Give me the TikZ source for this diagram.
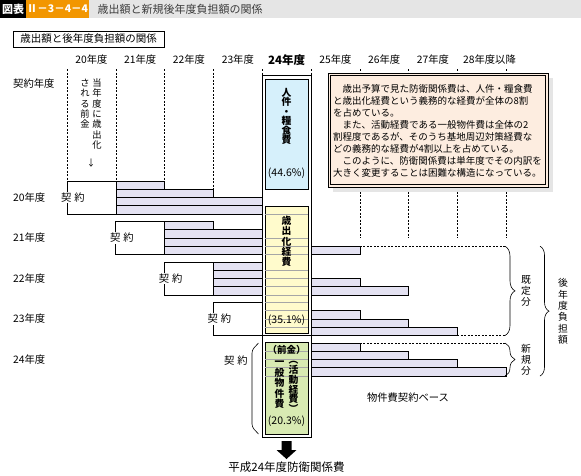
\documentclass[tikz,border=0pt]{standalone}
\usepackage{fontspec}
\setmainfont{Noto Sans CJK JP}
\usetikzlibrary{decorations.pathreplacing}
\definecolor{barfill}{RGB}{228,226,242}
\definecolor{boxblue}{RGB}{214,240,251}
\definecolor{boxyellow}{RGB}{255,251,204}
\definecolor{boxgreen}{RGB}{216,234,178}
\definecolor{notefill}{RGB}{253,237,224}
\definecolor{titleorange}{RGB}{242,150,0}
\definecolor{titlegray}{RGB}{229,229,229}
\definecolor{titletext}{RGB}{60,60,60}
\newcommand{\fsz}[2]{\fontsize{#1}{#2}\selectfont}

\begin{document}
\begin{tikzpicture}[x=1pt, y=-1pt,
    bar/.style={draw, line width=0.6pt, fill=barfill},
    guide/.style={line width=0.6pt, dash pattern=on 2pt off 1.5pt},
    boxline/.style={gray!70, line width=0.6pt},
    yearlabel/.style={font=\fsz{10.3}{12}, inner sep=1pt},
    keiyaku/.style={font=\fsz{10.3}{12}, fill=white, inner sep=1pt},
    vtext/.style={align=center, inner sep=0pt},
    bracebox/.style={decorate, line width=0.6pt}]
    \useasboundingbox (0,0) rectangle (581,475);

    % title bar
    \fill[black] (0,0) rectangle (26,18);
    \fill[titleorange] (26,0) rectangle (89,18);
    \fill[titlegray] (89,0) rectangle (581,18);
    \node[text=white, font=\fsz{11}{12}\bfseries] (zuhyo) at (13,9) {図表};
    \node[text=white, font=\fsz{10.5}{12}\bfseries] (zuhyono) at (57.5,9) {Ⅱ－3－4－4};
    \node[anchor=west, text=titletext, font=\fsz{11}{12}] (title) at (94,9) {歳出額と新規後年度負担額の関係};
    \node[draw, line width=0.8pt, minimum width=151pt, minimum height=16pt, inner sep=0pt, font=\fsz{10.5}{12}] (subtitle) at (88.5,39) {歳出額と後年度負担額の関係};

    % year heads
    \node[yearlabel] (h20) at (91.4,60) {20年度};
    \node[yearlabel] (h21) at (140.2,60) {21年度};
    \node[yearlabel] (h22) at (189,60) {22年度};
    \node[yearlabel] (h23) at (237.8,60) {23年度};
    \node[yearlabel, font=\fsz{11.5}{12}\bfseries] (h24) at (286.6,60) {24年度};
    \node[yearlabel] (h25) at (335.4,60) {25年度};
    \node[yearlabel] (h26) at (384.2,60) {26年度};
    \node[yearlabel] (h27) at (433,60) {27年度};
    \node[yearlabel, anchor=west] (h28) at (462,60) {28年度以降};

    \draw[guide] (67,69) -- (67,181);
    \draw[guide] (115.8,69) -- (115.8,181);
    \draw[guide] (164.6,69) -- (164.6,181);
    \draw[guide] (213.4,69) -- (213.4,189.25);
    \draw[guide] (262.2,69) -- (262.2,75);
    \draw[guide] (311,69) -- (311,75);
    \draw[guide] (359.8,69) -- (359.8,238);
    \draw[guide] (408.6,69) -- (408.6,238);
    \draw[guide] (457.4,69) -- (457.4,238);
    \draw[guide] (506.2,69) -- (506.2,238);

    % contract years
    \node[yearlabel, anchor=west] (ky) at (12,84) {契約年度};
    \node[yearlabel, anchor=west] (r20) at (12,197.5) {20年度};
    \node[yearlabel, anchor=west] (r21) at (12,238) {21年度};
    \node[yearlabel, anchor=west] (r22) at (12,278.5) {22年度};
    \node[yearlabel, anchor=west] (r23) at (12,319) {23年度};
    \node[yearlabel, anchor=west] (r24) at (12,359.5) {24年度};

    \node[vtext, font=\fsz{9.3}{10.3}] (maekin1) at (97,114) {当\\年\\度\\に\\歳\\出\\化};
    \node[vtext, font=\fsz{9.3}{10.3}] (maekin2) at (85,103.6) {さ\\れ\\る\\前\\金};
    \node[font=\fsz{9}{10}, inner sep=0pt] (down) at (91,163) {↓};

    % 20
    \draw[line width=0.7pt] (115.8,181) -- (67,181) -- (67,214) -- (115.8,214);
    \draw[bar] (115.8,181) rectangle (164.6,189.25);
    \draw[bar] (115.8,189.25) rectangle (213.4,197.5);
    \draw[bar] (115.8,197.5) rectangle (262.2,205.75);
    \draw[bar] (115.8,205.75) rectangle (311,214);
    % 21
    \draw[line width=0.7pt] (164.6,221.5) -- (115.8,221.5) -- (115.8,254.5) -- (164.6,254.5);
    \draw[bar] (164.6,221.5) rectangle (213.4,229.75);
    \draw[bar] (164.6,229.75) rectangle (262.2,238);
    \draw[bar] (164.6,238) rectangle (311,246.25);
    \draw[bar] (164.6,246.25) rectangle (359.8,254.5);
    % 22
    \draw[line width=0.7pt] (213.4,262) -- (164.6,262) -- (164.6,295) -- (213.4,295);
    \draw[bar] (213.4,262) rectangle (262.2,270.25);
    \draw[bar] (213.4,270.25) rectangle (311,278.5);
    \draw[bar] (213.4,278.5) rectangle (359.8,286.75);
    \draw[bar] (213.4,286.75) rectangle (408.6,295);
    % 23
    \draw[line width=0.7pt] (262.2,302.5) -- (213.4,302.5) -- (213.4,335.5) -- (262.2,335.5);
    \draw[bar] (262.2,302.5) rectangle (311,310.75);
    \draw[bar] (262.2,310.75) rectangle (359.8,319);
    \draw[bar] (262.2,319) rectangle (408.6,327.25);
    \draw[bar] (262.2,327.25) rectangle (457.4,335.5);
    % 24
    \draw[bar] (311,343) rectangle (359.8,351.25);
    \draw[bar] (311,351.25) rectangle (408.6,359.5);
    \draw[bar] (311,359.5) rectangle (457.4,367.75);
    \draw[bar] (311,367.75) rectangle (506.2,376);

    \node[keiyaku] (k20) at (73,197.5) {契\hspace{3pt}約};
    \node[keiyaku] (k21) at (121.8,238) {契\hspace{3pt}約};
    \node[keiyaku] (k22) at (170.6,278.5) {契\hspace{3pt}約};
    \node[keiyaku] (k23) at (219.4,319) {契\hspace{3pt}約};
    \node[keiyaku] (k24) at (236,361) {契\hspace{3pt}約};
    \draw[line width=0.6pt, rounded corners=3pt] (258.5,343) -- (252,350) -- (252,427) -- (258.5,434);

    % fiscal 24
    \draw[fill=white, line width=0.8pt] (262.2,75) rectangle (311,437);
    \draw[line width=0.6pt] (262.2,335.5) -- (311,335.5);
    \draw[fill=boxblue, line width=0.6pt] (265,79) rectangle (308,189);
    \draw[fill=boxyellow, line width=0.6pt] (265,206) rectangle (308,333);
    \draw[fill=boxgreen, line width=0.6pt] (265,342) rectangle (308,434);
    \foreach \y in {214,238,246.25,254.5,270.25,278.5,286.75,295,302.5,310.75,319,327.25,351.25,359.5,367.75,376}
        \draw[boxline] (265.3,\y) -- (307.7,\y);

    \node[vtext, font=\fsz{9.8}{9.5}\bfseries] (jinken) at (286.5,116.5) {人\\件\\・\\糧\\食\\費};
    \node[font=\fsz{10.5}{11}, inner sep=0pt] (p1) at (286.5,173) {(44.6\%)};
    \node[vtext, font=\fsz{9.8}{10.3}\bfseries] (saishutsu) at (286.5,241.5) {歳\\出\\化\\経\\費};
    \node[font=\fsz{10.5}{11}, inner sep=0pt] (p2) at (286.5,320) {(35.1\%)};
    \node[font=\fsz{9.5}{10}\bfseries, inner sep=0pt] (maekin) at (286.5,350) {（前金）};
    \node[vtext, font=\fsz{9.8}{9.8}\bfseries] (katsudo) at (293.5,387) {︵\\活\\動\\経\\費\\︶};
    \node[vtext, font=\fsz{9.8}{10.5}\bfseries] (ippan) at (279.5,385) {一\\般\\物\\件\\費};
    \node[font=\fsz{10.5}{11}, inner sep=0pt] (p3) at (286.5,421) {(20.3\%)};

    % note
    \fill[gray!20] (333,78) rectangle (553,192);
    \draw[fill=notefill, line width=1pt] (328,73) rectangle (548,187);
    \draw[line width=0.4pt] (330.5,75.5) rectangle (545.5,184.5);
    \node[align=left, anchor=north west, inner sep=0pt, font=\fsz{9.5}{12}] (note) at (333,84) {%
        　歳出予算で見た防衛関係費は、人件・糧食費\\
        と歳出化経費という義務的な経費が全体の8割\\
        を占めている。\\
        　また、活動経費である一般物件費は全体の2\\
        割程度であるが、そのうち基地周辺対策経費な\\
        どの義務的な経費が4割以上を占めている。\\
        　このように、防衛関係費は単年度でその内訳を\\
        大きく変更することは困難な構造になっている。};

    % later years
    \draw[guide] (359.8,246.25) -- (505,246.25);
    \draw[guide] (457.4,335.5) -- (505,335.5);
    \draw[guide] (359.8,343) -- (505,343);
    \draw[bracebox, decoration={brace, amplitude=10pt}] (505,246.25) -- (505,335.5);
    \draw[bracebox, decoration={brace, amplitude=10pt}] (505,343) -- (505,376);
    \draw[bracebox, decoration={brace, amplitude=9pt}] (540,246.25) -- (540,376);
    \node[vtext, font=\fsz{9.8}{11}] (kitei) at (526,291) {既\\定\\分};
    \node[vtext, font=\fsz{9.8}{11}] (shinki) at (526,360) {新\\規\\分};
    \node[vtext, font=\fsz{9.8}{11.4}] (gonendo) at (563,311.5) {後\\年\\度\\負\\担\\額};
    \node[font=\fsz{10.3}{12}] (base) at (408,398) {物件費契約ベース};

    \fill (281.5,441) -- (291.5,441) -- (291.5,450) -- (296.5,450) -- (286.5,459) -- (276.5,450) -- (281.5,450) -- cycle;
    \node[font=\fsz{11.5}{12}] (total) at (286.5,467.5) {平成24年度防衛関係費};
\end{tikzpicture}
\end{document}
